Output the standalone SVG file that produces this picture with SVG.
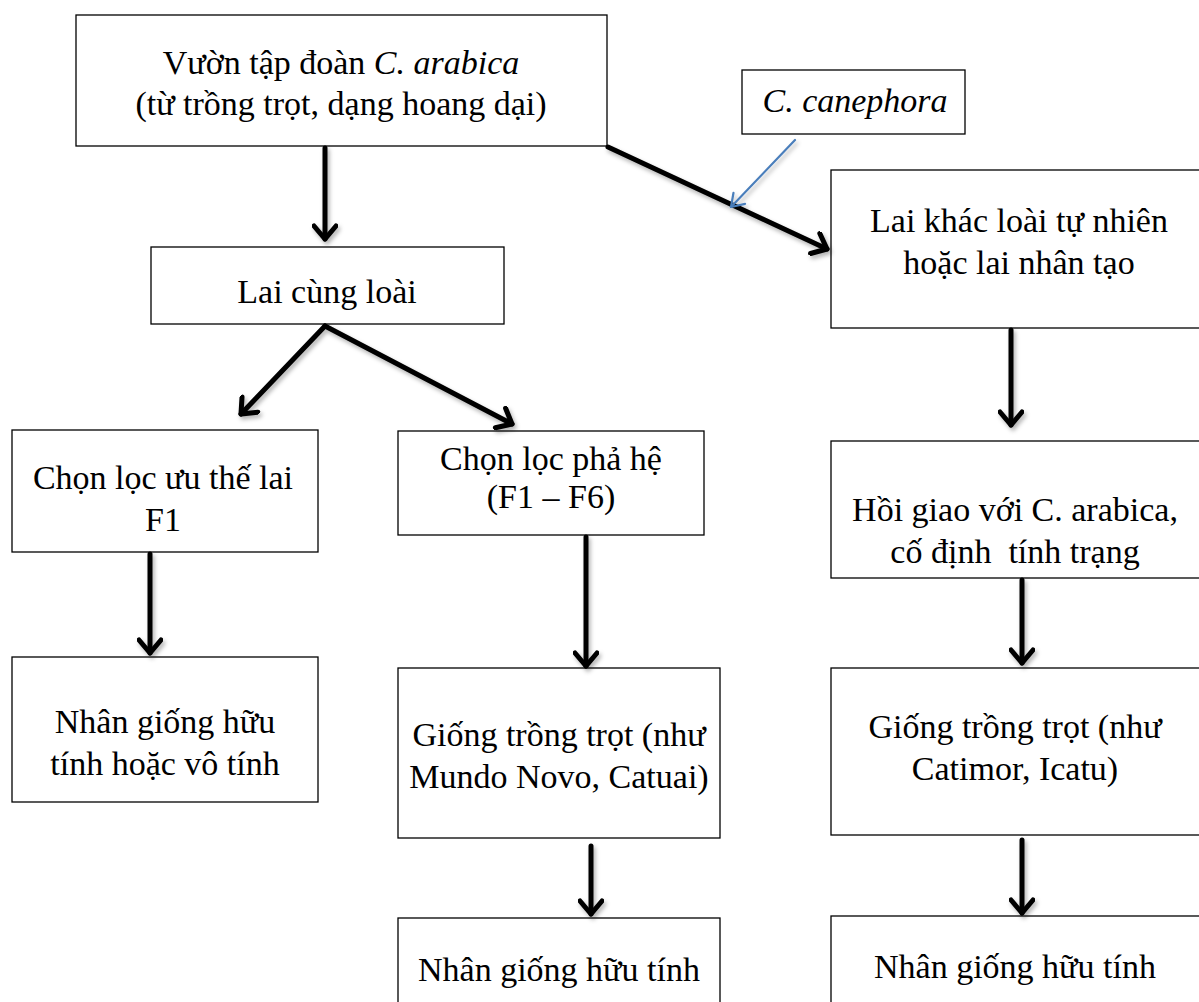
<svg xmlns="http://www.w3.org/2000/svg" width="1199" height="1002" viewBox="0 0 1199 1002">
<style>
.box{fill:#fff;stroke:#000;stroke-width:1.3}
.t{font-family:'Liberation Serif','Times New Roman',serif;font-size:34px;fill:#000;text-anchor:middle}
.i{font-style:italic}
.arr{fill:none;stroke:#000;stroke-width:5;stroke-linecap:round;stroke-linejoin:round}
.blue{fill:none;stroke:#4a7ebb;stroke-width:2.2;stroke-linecap:round;stroke-linejoin:round}
</style>
<defs>
<filter id="sh" x="-20%" y="-20%" width="140%" height="140%">
<feDropShadow dx="2" dy="3" stdDeviation="2" flood-color="#000" flood-opacity="0.3"/>
</filter>
<marker id="head" viewBox="-16 -13 20 26" markerWidth="20" markerHeight="26" refX="0" refY="0" orient="auto" markerUnits="userSpaceOnUse">
<path d="M-13,-11 L0,0 L-13,11" fill="none" stroke="#000" stroke-width="5" stroke-linecap="round" stroke-linejoin="round"/>
</marker>
<marker id="bhead" viewBox="-14 -10 16 20" markerWidth="16" markerHeight="20" refX="0" refY="0" orient="auto" markerUnits="userSpaceOnUse">
<path d="M-12,-8 L0,0 L-12,8" fill="none" stroke="#4a7ebb" stroke-width="2.2" stroke-linecap="round" stroke-linejoin="round"/>
</marker>
</defs>
<rect width="1199" height="1002" fill="#fff"/>

<g id="n-vuon">
<rect class="box" x="76" y="15" width="531" height="131"/>
<text class="t" x="341" y="74">Vườn tập đoàn <tspan class="i">C. arabica</tspan></text>
<text class="t" x="341" y="115">(từ trồng trọt, dạng hoang dại)</text>
</g>
<g id="n-canephora">
<rect class="box" x="742" y="70" width="223" height="64"/>
<text class="t i" x="855" y="112">C. canephora</text>
</g>
<g id="n-laicung">
<rect class="box" x="151" y="247" width="353" height="77"/>
<text class="t" x="327" y="303">Lai cùng loài</text>
</g>
<g id="n-laikhac">
<rect class="box" x="831" y="170" width="372" height="158"/>
<text class="t" x="1019" y="232">Lai khác loài tự nhiên</text>
<text class="t" x="1019" y="274">hoặc lai nhân tạo</text>
</g>
<g id="n-uuthe">
<rect class="box" x="12" y="430" width="306" height="122"/>
<text class="t" x="163" y="489">Chọn lọc ưu thế lai</text>
<text class="t" x="163" y="531">F1</text>
</g>
<g id="n-phahe">
<rect class="box" x="398" y="431" width="306" height="104"/>
<text class="t" x="551" y="470">Chọn lọc phả hệ</text>
<text class="t" x="551" y="508">(F1 – F6)</text>
</g>
<g id="n-hoigiao">
<rect class="box" x="831" y="441" width="372" height="137"/>
<text class="t" x="1015" y="521">Hồi giao với C. arabica,</text>
<text class="t" x="1015" y="563" style="white-space:pre">cố định  tính trạng</text>
</g>
<g id="n-nhan1">
<rect class="box" x="12" y="657" width="306" height="145"/>
<text class="t" x="165" y="733">Nhân giống hữu</text>
<text class="t" x="165" y="775">tính hoặc vô tính</text>
</g>
<g id="n-giong1">
<rect class="box" x="398" y="668" width="322" height="170"/>
<text class="t" x="559" y="746">Giống trồng trọt (như</text>
<text class="t" x="559" y="788">Mundo Novo, Catuai)</text>
</g>
<g id="n-giong2">
<rect class="box" x="831" y="668" width="372" height="167"/>
<text class="t" x="1015" y="738">Giống trồng trọt (như</text>
<text class="t" x="1015" y="780">Catimor, Icatu)</text>
</g>
<g id="n-nhan2">
<rect class="box" x="398" y="918" width="322" height="100"/>
<text class="t" x="559" y="981">Nhân giống hữu tính</text>
</g>
<g id="n-nhan3">
<rect class="box" x="831" y="916" width="372" height="100"/>
<text class="t" x="1015" y="978">Nhân giống hữu tính</text>
</g>

<g id="connectors" filter="url(#sh)">
<line class="arr" x1="325" y1="148" x2="325" y2="239" marker-end="url(#head)"/>
<line class="arr" x1="608" y1="147" x2="827" y2="249" marker-end="url(#head)"/>
<line class="arr" x1="325" y1="326" x2="241" y2="414" marker-end="url(#head)"/>
<line class="arr" x1="325" y1="326" x2="512" y2="424" marker-end="url(#head)"/>
<line class="arr" x1="1011" y1="330" x2="1011" y2="425" marker-end="url(#head)"/>
<line class="arr" x1="150" y1="554" x2="150" y2="653" marker-end="url(#head)"/>
<line class="arr" x1="586" y1="537" x2="586" y2="666" marker-end="url(#head)"/>
<line class="arr" x1="1022" y1="580" x2="1022" y2="663" marker-end="url(#head)"/>
<line class="arr" x1="591" y1="846" x2="591" y2="914" marker-end="url(#head)"/>
<line class="arr" x1="1022" y1="840" x2="1022" y2="913" marker-end="url(#head)"/>
<line class="blue" x1="795" y1="140" x2="731" y2="207" marker-end="url(#bhead)"/>
</g>
</svg>
